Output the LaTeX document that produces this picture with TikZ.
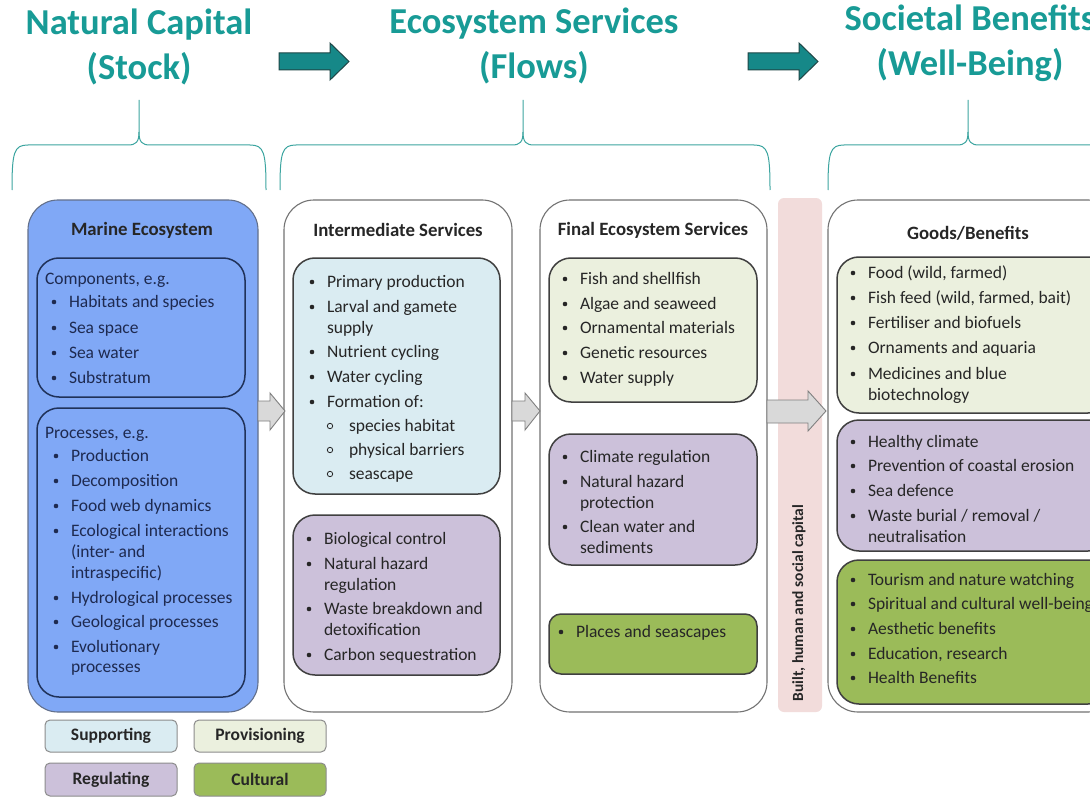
\documentclass[tikz,border=0pt]{standalone}
\usepackage{fontspec}
\setmainfont{Carlito}
\definecolor{tealtxt}{RGB}{24,155,150}
\definecolor{tealarr}{RGB}{22,136,136}
\definecolor{tealdark}{RGB}{30,70,70}
\definecolor{bracecol}{RGB}{60,165,160}
\definecolor{marine}{RGB}{128,168,246}
\definecolor{navy}{RGB}{32,50,90}
\definecolor{navytxt}{RGB}{30,42,80}
\definecolor{supfill}{RGB}{218,236,242}
\definecolor{provfill}{RGB}{235,240,222}
\definecolor{regfill}{RGB}{204,193,218}
\definecolor{culfill}{RGB}{155,187,89}
\definecolor{pinkbar}{RGB}{242,220,219}
\definecolor{txtgray}{RGB}{38,38,38}
\definecolor{arrgray}{RGB}{217,217,217}
\newcounter{li}
\newcommand\mkbox[6]{\node[#1, anchor=north west, minimum width={#5-#3}, minimum height={#6-#4}] (#2) at (#3,#4) {};}
\newcommand\itm[4][txtgray]{\stepcounter{li}\fill[#1] (#2-15,#3-5) circle (2.3);
  \node[txt, text=#1] (li\arabic{li}) at (#2,#3) {#4};}
\newcommand\cnt[4][txtgray]{\stepcounter{li}\node[txt, text=#1] (li\arabic{li}) at (#2,#3) {#4};}
\newcommand\subitm[3]{\stepcounter{li}\draw[txtgray, line width=0.8pt] (#1-19,#2-5) circle (2.7);
  \node[txt] (li\arabic{li}) at (#1,#2) {#3};}
\tikzset{
  x=1pt, y=-1pt,
  txt/.style={anchor=base west, inner sep=0pt, outer sep=0pt, font=\fontsize{17.5}{20}\selectfont, text=txtgray},
  hdr/.style={align=center, inner sep=0pt, text=tealtxt, font=\bfseries\fontsize{36.5}{45}\selectfont},
  ttl/.style={inner sep=0pt, font=\bfseries\fontsize{18.8}{22}\selectfont, text=black!85},
  bigbox/.style={draw=black!55, line width=1.1pt, fill=white, rounded corners=30pt, inner sep=0pt, outer sep=0pt},
  inbox/.style={draw=black!75, line width=1.5pt, rounded corners=22pt, inner sep=0pt, outer sep=0pt},
  legbox/.style={draw=black!45, line width=1pt, rounded corners=5pt, inner sep=0pt, outer sep=0pt},
  legtxt/.style={inner sep=0pt, font=\bfseries\fontsize{17.5}{20}\selectfont, text=black!85},
  brace/.style={draw=bracecol, line width=1pt},
  tarrow/.style={fill=tealarr, draw=tealdark, line width=1pt},
  garrow/.style={fill=arrgray, draw=black!50, line width=0.9pt},
}
\begin{document}
\begin{tikzpicture}
\useasboundingbox (0,0) rectangle (1090,797);
\clip (0,0) rectangle (1090,797);
\fill[white] (0,0) rectangle (1090,797);

% headers
\node[hdr] (hnc) at (139,47) {Natural Capital\\(Stock)};
\node[hdr] (hes) at (534,46) {Ecosystem Services\\(Flows)};
\node[hdr] (hsb) at (970,43) {Societal Benefits\\(Well-Being)};

% teal arrows
\path[tarrow] (279,53) -- (330,53) -- (330,43) -- (349,61.5) -- (330,80) -- (330,70) -- (279,70) -- cycle;
\path[tarrow] (748,53) -- (799,53) -- (799,43) -- (818,61.5) -- (799,80) -- (799,70) -- (748,70) -- cycle;

% braces
\path[brace] (12,190) .. controls (12,152) and (14,145) .. (28,145) -- (128,145) .. controls (136,145) and (139,142) .. (139,132) -- (139,100);
\path[brace] (139,132) .. controls (139,142) and (142,145) .. (150,145) -- (250,145) .. controls (264,145) and (266,152) .. (266,190);
\path[brace] (280,190) .. controls (280,152) and (282,145) .. (296,145) -- (512,145) .. controls (520,145) and (523,142) .. (523,132) -- (523,100);
\path[brace] (523,132) .. controls (523,142) and (526,145) .. (534,145) -- (754,145) .. controls (768,145) and (770,152) .. (770,190);
\path[brace] (828,190) .. controls (828,152) and (830,145) .. (844,145) -- (957,145) .. controls (965,145) and (968,142) .. (968,132) -- (968,100);
\path[brace] (968,132) .. controls (968,142) and (971,145) .. (979,145) -- (1100,145);

% big boxes
\mkbox{bigbox, fill=marine, draw=navy!70}{marine}{28}{200}{258}{712}
\mkbox{bigbox}{inter}{284}{200}{512}{712}
\mkbox{bigbox}{final}{540}{200}{767}{712}
\mkbox{bigbox}{goods}{828}{200}{1118}{712}
\path[fill=pinkbar, rounded corners=6pt] (778,198) rectangle (822,712);
\node[rotate=90, inner sep=0pt, font=\bfseries\fontsize{15.5}{18}\selectfont, text=black!85] (bhs) at (799,603) {Built, human and social capital};

% titles
\node[ttl] (tme) at (142,230) {Marine Ecosystem};
\node[ttl] (tis) at (398,230) {Intermediate Services};
\node[ttl] (tfe) at (653,230) {Final Ecosystem Services};
\node[ttl] (tgb) at (968,233) {Goods/Benefits};

% inner boxes
\mkbox{inbox, fill=marine, draw=navy}{comp}{37}{258}{245}{397}
\mkbox{inbox, fill=marine, draw=navy}{proc}{37}{408}{245}{697}
\mkbox{inbox, fill=supfill}{isup}{293}{258}{500}{494}
\mkbox{inbox, fill=regfill}{ireg}{293}{515}{500}{675}
\mkbox{inbox, fill=provfill}{fprov}{549}{258}{757}{402}
\mkbox{inbox, fill=regfill}{freg}{549}{434}{757}{565}
\mkbox{inbox, fill=culfill, rounded corners=12pt}{fcul}{549}{614}{757}{674}
\mkbox{inbox, fill=provfill}{gprov}{837}{257}{1110}{413}
\mkbox{inbox, fill=regfill}{greg}{837}{420}{1110}{551}
\mkbox{inbox, fill=culfill}{gcul}{837}{560}{1110}{704}

% gray arrows
\path[garrow] (258,401) -- (270,401) -- (270,393) -- (285,411) -- (270,430) -- (270,421) -- (258,421) -- cycle;
\path[garrow] (512,401) -- (525,401) -- (525,393) -- (540,411) -- (525,430) -- (525,421) -- (512,421) -- cycle;
\path[garrow] (767,400) -- (808,400) -- (808,391) -- (826,411) -- (808,431) -- (808,423) -- (767,423) -- cycle;

% marine lists
\cnt[navytxt]{45}{284}{Components, e.g.}
\itm[navytxt]{69}{307}{Habitats and species}
\itm[navytxt]{69}{333}{Sea space}
\itm[navytxt]{69}{358}{Sea water}
\itm[navytxt]{69}{383}{Substratum}
\cnt[navytxt]{45}{438}{Processes, e.g.}
\itm[navytxt]{71}{461}{Production}
\itm[navytxt]{71}{486}{Decomposition}
\itm[navytxt]{71}{511}{Food web dynamics}
\itm[navytxt]{71}{536}{Ecological interactions}
\cnt[navytxt]{71}{557}{(inter- and}
\cnt[navytxt]{71}{578}{intraspecific)}
\itm[navytxt]{71}{603}{Hydrological processes}
\itm[navytxt]{71}{627}{Geological processes}
\itm[navytxt]{71}{652}{Evolutionary}
\cnt[navytxt]{71}{672}{processes}

% intermediate
\itm{327}{287}{Primary production}
\itm{327}{312}{Larval and gamete}
\cnt{327}{333}{supply}
\itm{327}{357}{Nutrient cycling}
\itm{327}{382}{Water cycling}
\itm{327}{407}{Formation of:}
\subitm{349}{431}{species habitat}
\subitm{349}{455}{physical barriers}
\subitm{349}{479}{seascape}
\itm{324}{544}{Biological control}
\itm{324}{569}{Natural hazard}
\cnt{324}{590}{regulation}
\itm{324}{614}{Waste breakdown and}
\cnt{324}{635}{detoxification}
\itm{324}{660}{Carbon sequestration}

% final
\itm{580}{284}{Fish and shellfish}
\itm{580}{309}{Algae and seaweed}
\itm{580}{333}{Ornamental materials}
\itm{580}{358}{Genetic resources}
\itm{580}{383}{Water supply}
\itm{580}{462}{Climate regulation}
\itm{580}{487}{Natural hazard}
\cnt{580}{508}{protection}
\itm{580}{532}{Clean water and}
\cnt{580}{553}{sediments}
\itm{576}{637}{Places and seascapes}

% goods
\itm{868}{278}{Food (wild, farmed)}
\itm{868}{303}{Fish feed (wild, farmed, bait)}
\itm{868}{328}{Fertiliser and biofuels}
\itm{868}{353}{Ornaments and aquaria}
\itm{868}{379}{Medicines and blue}
\cnt{868}{400}{biotechnology}
\itm{868}{447}{Healthy climate}
\itm{868}{471}{Prevention of coastal erosion}
\itm{868}{496}{Sea defence}
\itm{868}{521}{Waste burial / removal /}
\cnt{868}{542}{neutralisation}
\itm{868}{585}{Tourism and nature watching}
\itm{868}{609}{Spiritual and cultural well-being}
\itm{868}{634}{Aesthetic benefits}
\itm{868}{659}{Education, research}
\itm{868}{683}{Health Benefits}

% legend
\mkbox{legbox, fill=supfill}{lsup}{45}{720}{177}{752}
\mkbox{legbox, fill=provfill}{lprov}{194}{720}{326}{752}
\mkbox{legbox, fill=regfill}{lreg}{45}{763}{177}{796}
\mkbox{legbox, fill=culfill}{lcul}{194}{763}{326}{796}
\node[legtxt] at (lsup) {Supporting};
\node[legtxt] at (lprov) {Provisioning};
\node[legtxt] at (lreg) {Regulating};
\node[legtxt] at (lcul) {Cultural};
\end{tikzpicture}
\end{document}
